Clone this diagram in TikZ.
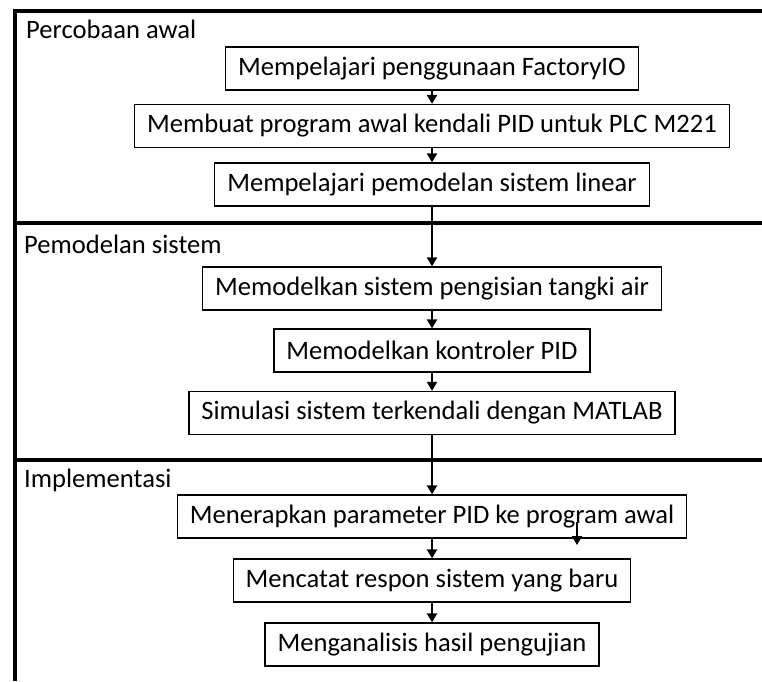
\documentclass[tikz,border=0pt]{standalone}
\usepackage{fontspec}
\setmainfont{Carlito}
\usetikzlibrary{arrows.meta}

\begin{document}
\begin{tikzpicture}[x=1pt,y=-1pt,
  stepbox/.style={draw,line width=1.3pt,minimum height=43pt,inner xsep=12.5pt,
    font=\fontsize{26.6}{30}\selectfont},
  phase/.style={anchor=base west,inner sep=0pt,font=\fontsize{26.6}{30}\selectfont},
  flow/.style={line width=2pt,-{Triangle[width=10pt,length=9pt]}},
  frame/.style={line width=3.5pt}]
  \useasboundingbox (0,0) rectangle (762,681);
  % frame and phase separators
  \draw[frame] (762,11) -- (15,11) -- (15,681);
  \draw[frame] (15,223) -- (762,223);
  \draw[frame] (15,460) -- (762,460);
  \node[phase] (p1) at (26,38) {Percobaan awal};
  \node[phase] (p2) at (24,253) {Pemodelan sistem};
  \node[phase] (p3) at (24,487) {Implementasi};
  % steps
  \foreach \n/\y/\t in {1/68.5/Mempelajari penggunaan FactoryIO,
      2/126/Membuat program awal kendali PID untuk PLC M221,
      3/184.5/Mempelajari pemodelan sistem linear,
      4/288.5/Memodelkan sistem pengisian tangki air,
      5/350.5/Memodelkan kontroler PID,
      6/413/Simulasi sistem terkendali dengan MATLAB,
      7/516.5/Menerapkan parameter PID ke program awal,
      8/580.5/Mencatat respon sistem yang baru,
      9/644.5/Menganalisis hasil pengujian}{
    \node[stepbox] (s\n) at (432,\y) {\t};
  }
  \foreach \a/\b in {1/2,2/3,3/4,4/5,5/6,6/7,7/8,8/9}
    \draw[flow] (s\a) -- (s\b);
  % stray arrow in box 7
  \coordinate (x1) at (577,522);
  \coordinate (x2) at (577,545);
  \draw[flow] (x1) -- (x2);
\end{tikzpicture}
\end{document}
